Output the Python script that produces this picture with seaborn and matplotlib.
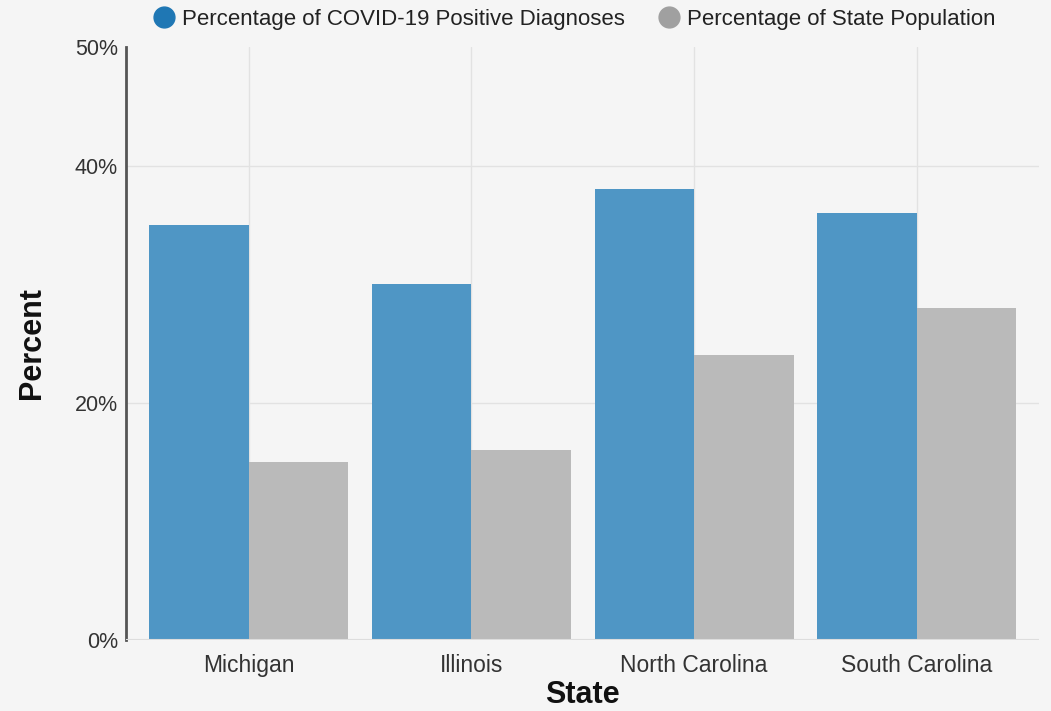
import pandas as pd
import seaborn as sns
import matplotlib.pyplot as plt
from matplotlib.lines import Line2D

states = ['Michigan', 'Illinois', 'North Carolina', 'South Carolina']
covid_pct = [35, 30, 38, 36]
pop_pct = [15, 16, 24, 28]
series = ['Percentage of COVID-19 Positive Diagnoses', 'Percentage of State Population']
y_ticks = [0, 20, 40, 50]

df = pd.DataFrame({
    'State': states * 2,
    'Percent': covid_pct + pop_pct,
    'Series': [series[0]] * len(states) + [series[1]] * len(states),
})

sns.set_style('white')
plt.rcParams['font.family'] = ['Liberation Sans', 'DejaVu Sans']

bg = '#f5f5f5'
fig = plt.figure(figsize=(10.51, 7.11), dpi=100, facecolor=bg)
ax = fig.add_axes([0.12, 0.10, 0.869, 0.834], facecolor=bg)

bar_colors = {series[0]: '#4f96c5', series[1]: '#bababa'}
sns.barplot(data=df, x='State', y='Percent', hue='Series', palette=bar_colors,
            width=0.893, gap=0, saturation=1, ax=ax, legend=False, zorder=3,
            linewidth=0)

ax.set_ylim(0, 50)
ax.set_xlim(-0.55, 3.55)
ax.set_yticks(y_ticks)
ax.set_yticklabels([f'{t}%' for t in y_ticks])
ax.tick_params(axis='both', length=0, colors='#333333')
ax.tick_params(axis='x', pad=10, labelsize=16.5)
ax.tick_params(axis='y', pad=6, labelsize=15.5)

for t in [20, 40]:
    ax.axhline(t, color='#e2e2e2', lw=1, zorder=0)
ax.axhline(0, color='#dddddd', lw=1.5, zorder=4)
for i in range(len(states)):
    ax.axvline(i, color='#e2e2e2', lw=1, zorder=0)

for s in ['top', 'right', 'bottom']:
    ax.spines[s].set_visible(False)
ax.spines['left'].set_color('#555555')
ax.spines['left'].set_linewidth(2)

ax.set_xlabel('State', fontsize=22, fontweight='bold', labelpad=2, color='#111111')
ax.set_ylabel('Percent', fontsize=22, fontweight='bold', labelpad=20, color='#111111')

handles = [
    Line2D([], [], marker='o', ls='', markersize=15, color='#1f77b4', label=series[0]),
    Line2D([], [], marker='o', ls='', markersize=15, color='#a0a0a0', label=series[1]),
]
fig.legend(handles=handles, loc='center', bbox_to_anchor=(0.541, 0.973), ncol=2,
           frameon=False, fontsize=16, handletextpad=-0.2, columnspacing=1.0,
           labelcolor='#222222')

fig.savefig('out.png', dpi=100, facecolor=bg)
